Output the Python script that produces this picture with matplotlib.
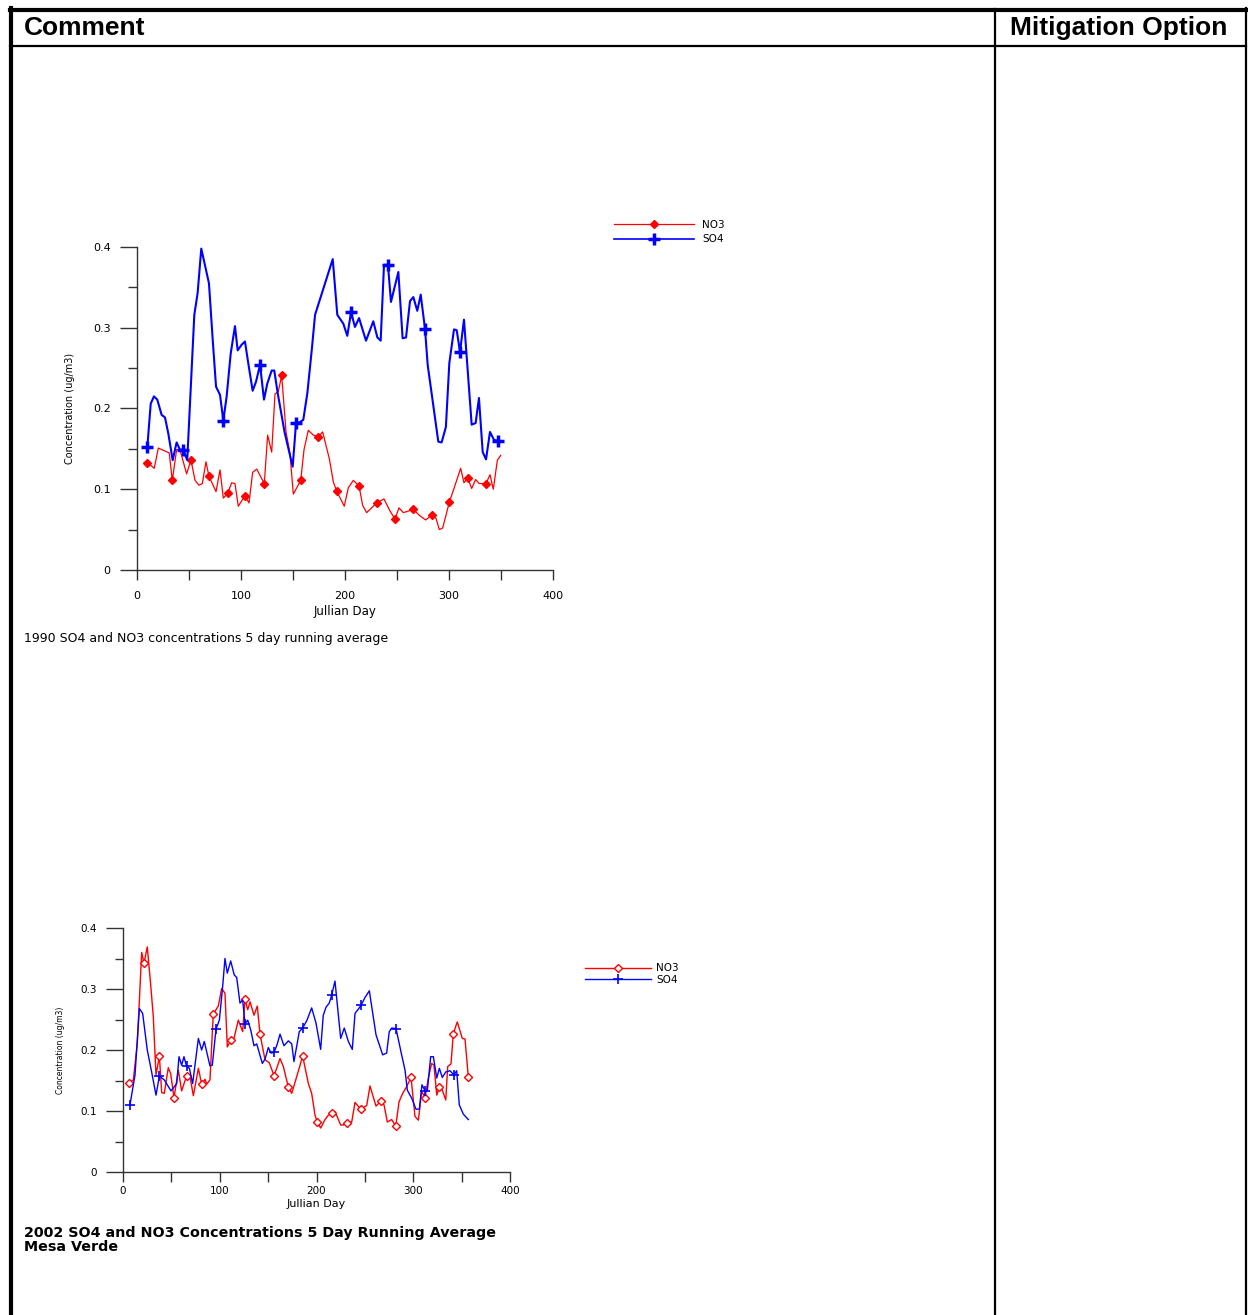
import numpy as np
import matplotlib
matplotlib.use("Agg")
import matplotlib.pyplot as plt
from matplotlib.lines import Line2D

plt.rcParams['font.family'] = ['DejaVu Sans']

# 1990 data (Julian day, ug/m3)
so4_1990_day = [9.9, 13.2, 16.3, 19.5, 23.7, 26.9, 30.1, 34.3, 38.1, 41.3, 44.5, 48.3,
                55.1, 58.3, 61.8, 69.2, 72.8, 76.0, 79.8, 83.0, 86.2, 90.1, 94.2, 96.8,
                100.6, 103.8, 107.0, 111.2, 114.4, 118.3, 122.1, 125.3, 129.5, 132.0,
                135.3, 142.0, 149.7, 152.9, 156.5, 159.9, 163.8, 168.0, 171.2, 188.2,
                192.6, 198.4, 202.2, 205.8, 209.6, 213.5, 220.2, 227.2, 231.1, 234.3,
                237.5, 241.3, 244.2, 251.3, 255.4, 258.7, 262.5, 265.7, 269.5, 272.8,
                276.9, 279.5, 289.7, 292.9, 297.0, 300.3, 304.8, 307.4, 310.6, 314.4,
                321.8, 325.6, 328.8, 332.4, 335.6, 339.4, 343.3, 347.4]
so4_1990 = [0.152, 0.206, 0.215, 0.211, 0.192, 0.189, 0.169, 0.136, 0.158, 0.149, 0.149, 0.136,
            0.316, 0.343, 0.398, 0.355, 0.285, 0.227, 0.217, 0.185, 0.215, 0.268, 0.302, 0.272,
            0.279, 0.283, 0.256, 0.222, 0.233, 0.254, 0.211, 0.231, 0.247, 0.247,
            0.219, 0.170, 0.128, 0.182, 0.183, 0.186, 0.219, 0.272, 0.316, 0.385,
            0.316, 0.305, 0.290, 0.319, 0.301, 0.312, 0.284, 0.308, 0.288, 0.284,
            0.378, 0.378, 0.332, 0.369, 0.287, 0.288, 0.333, 0.338, 0.321, 0.341,
            0.299, 0.254, 0.159, 0.158, 0.177, 0.256, 0.298, 0.297, 0.270, 0.310,
            0.180, 0.182, 0.213, 0.146, 0.137, 0.171, 0.161, 0.160]
so4_1990_marks = [9.9, 44.5, 83.0, 118.3, 152.9, 205.8, 241.3, 276.9, 310.6, 347.4]

no3_1990_day = [9.9, 16.6, 20.5, 31.0, 33.9, 38.1, 41.3, 47.7, 51.9, 55.8, 59.6, 62.8, 66.3,
                69.2, 76.0, 79.8, 83.0, 87.2, 91.0, 94.2, 97.4, 103.8, 107.7, 111.2, 115.1,
                122.4, 125.6, 129.5, 132.7, 135.9, 139.1, 143.3, 147.1, 150.3, 157.4, 160.6,
                164.7, 169.6, 174.4, 178.5, 184.9, 188.8, 191.9, 199.3, 203.2, 208.0, 213.5,
                217.0, 220.8, 230.4, 237.5, 243.3, 248.1, 251.9, 256.1, 265.7, 272.1, 277.6,
                283.3, 287.5, 290.7, 293.9, 300.3, 304.8, 311.2, 314.4, 317.9, 321.8, 325.6,
                329.1, 335.6, 339.4, 342.6, 346.5, 349.7]
no3_1990 = [0.133, 0.126, 0.151, 0.145, 0.111, 0.149, 0.149, 0.119, 0.136, 0.111, 0.105, 0.107, 0.134,
            0.116, 0.097, 0.124, 0.089, 0.095, 0.108, 0.107, 0.079, 0.092, 0.083, 0.121, 0.125,
            0.107, 0.167, 0.146, 0.218, 0.221, 0.241, 0.171, 0.144, 0.094, 0.111, 0.149,
            0.173, 0.167, 0.165, 0.171, 0.138, 0.109, 0.098, 0.079, 0.102, 0.111, 0.104,
            0.080, 0.071, 0.083, 0.088, 0.073, 0.063, 0.077, 0.071, 0.075, 0.067, 0.062,
            0.068, 0.064, 0.050, 0.052, 0.084, 0.101, 0.126, 0.108, 0.114, 0.101, 0.112,
            0.107, 0.107, 0.118, 0.100, 0.136, 0.142]
no3_1990_marks = [9.9, 33.9, 51.9, 69.2, 87.2, 103.8, 122.4, 139.1, 157.4, 174.4, 191.9,
                  213.5, 230.4, 248.1, 265.7, 283.3, 300.3, 317.9, 335.6]

# 2002 data
so4_2002_day = [7.2, 12.4, 16.9, 20.3, 25.1, 29.6, 34.1, 37.6, 42.7, 49.6, 55.5, 57.9, 60.6, 63.0,
                65.8, 68.6, 72.0, 77.9, 81.3, 84.0, 89.9, 92.3, 96.1, 99.6, 103.0, 105.4, 107.8,
                111.3, 115.0, 117.5, 120.9, 123.7, 126.1, 128.9, 132.0, 135.4, 138.2, 144.0,
                146.8, 150.2, 153.0, 156.1, 159.5, 162.3, 166.4, 170.9, 174.4, 176.7, 182.2,
                185.7, 189.9, 195.0, 199.5, 204.3, 207.0, 209.8, 213.2, 215.7, 219.1, 225.0,
                228.7, 232.9, 237.0, 239.8, 243.2, 246.0, 250.1, 254.6, 261.5, 268.4, 272.5,
                275.2, 277.7, 282.2, 288.0, 291.5, 293.9, 298.4, 302.8, 306.3, 309.0, 312.2,
                314.6, 318.0, 320.8, 324.3, 327.0, 330.0, 333.6, 338.0, 342.1, 344.9, 347.6,
                351.7, 356.9]
so4_2002 = [0.110, 0.159, 0.268, 0.260, 0.200, 0.164, 0.126, 0.157, 0.151, 0.133, 0.145, 0.189, 0.175, 0.189,
            0.173, 0.170, 0.145, 0.219, 0.200, 0.214, 0.174, 0.175, 0.234, 0.249, 0.304, 0.350, 0.326,
            0.346, 0.323, 0.319, 0.277, 0.282, 0.243, 0.249, 0.233, 0.207, 0.210, 0.178,
            0.185, 0.204, 0.195, 0.196, 0.210, 0.226, 0.207, 0.215, 0.210, 0.181, 0.230,
            0.236, 0.248, 0.269, 0.244, 0.201, 0.257, 0.270, 0.277, 0.290, 0.313, 0.219,
            0.236, 0.214, 0.201, 0.260, 0.267, 0.273, 0.286, 0.297, 0.225, 0.192, 0.195,
            0.230, 0.236, 0.235, 0.192, 0.167, 0.134, 0.121, 0.103, 0.103, 0.143, 0.133,
            0.134, 0.189, 0.189, 0.154, 0.170, 0.155, 0.164, 0.166, 0.159, 0.166, 0.110,
            0.095, 0.086]
so4_2002_marks = [7.2, 37.6, 65.8, 96.1, 126.1, 156.1, 185.7, 215.7, 246.0, 282.2, 312.2, 342.1]

no3_2002_day = [6.5, 10.7, 14.8, 19.3, 21.7, 25.1, 28.6, 31.3, 34.1, 37.6, 40.0, 42.7, 46.8, 49.3,
                52.7, 57.2, 60.6, 65.8, 69.3, 72.7, 77.9, 81.3, 84.8, 86.5, 89.9, 93.3, 98.5,
                102.0, 105.4, 107.8, 111.3, 114.7, 119.2, 123.7, 126.1, 128.9, 131.3, 135.4,
                138.8, 141.6, 146.8, 151.2, 156.1, 159.5, 162.3, 165.7, 170.9, 174.4, 179.5,
                185.7, 191.6, 195.0, 198.5, 200.9, 204.3, 208.8, 212.2, 216.4, 219.1, 225.0,
                227.7, 231.2, 236.4, 239.8, 245.7, 251.9, 255.3, 261.5, 266.4, 269.8, 273.2,
                277.7, 281.9, 285.3, 289.1, 293.2, 297.7, 301.8, 305.3, 308.7, 312.2, 315.6,
                319.0, 321.4, 324.3, 327.0, 329.4, 333.6, 335.6, 339.0, 341.4, 345.5, 350.7,
                353.5, 356.9]
no3_2002 = [0.146, 0.151, 0.211, 0.360, 0.342, 0.369, 0.307, 0.255, 0.159, 0.190, 0.130, 0.129, 0.171, 0.161,
            0.122, 0.167, 0.133, 0.158, 0.156, 0.125, 0.170, 0.144, 0.152, 0.144, 0.151, 0.259, 0.272,
            0.301, 0.293, 0.205, 0.216, 0.219, 0.249, 0.230, 0.283, 0.266, 0.279, 0.257,
            0.272, 0.226, 0.184, 0.179, 0.158, 0.173, 0.186, 0.173, 0.139, 0.129, 0.156,
            0.190, 0.145, 0.129, 0.093, 0.082, 0.072, 0.086, 0.093, 0.097, 0.099, 0.077,
            0.077, 0.081, 0.082, 0.114, 0.103, 0.109, 0.141, 0.108, 0.116, 0.110, 0.082,
            0.086, 0.075, 0.115, 0.129, 0.140, 0.155, 0.091, 0.085, 0.132, 0.122, 0.154,
            0.178, 0.175, 0.126, 0.140, 0.137, 0.118, 0.173, 0.177, 0.227, 0.246, 0.219,
            0.218, 0.156]
no3_2002_marks = [6.5, 21.7, 37.6, 52.7, 65.8, 81.3, 93.3, 111.3, 126.1, 141.6, 156.1, 170.9,
                  185.7, 200.9, 216.4, 231.2, 245.7, 266.4, 281.9, 297.7, 312.2, 327.0, 341.4, 356.9]

x_ticks = [0, 100, 200, 300, 400]
y_ticks = [0, 0.1, 0.2, 0.3, 0.4]
y_labels = ['0', '0.1', '0.2', '0.3', '0.4']

W, H = 1248, 1315


def marks(days, mdays):
    return [i for i, d in enumerate(days) if d in mdays]


def rect(left, top, right, bottom):
    return [left / W, 1 - bottom / H, (right - left) / W, (bottom - top) / H]


def style_axes(ax, fs, ymaj, ymin, xlen, ypad, xpad):
    for s in ['top', 'right']:
        ax.spines[s].set_visible(False)
    for s in ['left', 'bottom']:
        ax.spines[s].set_color('#333333')
        ax.spines[s].set_linewidth(1.0)
    ax.set_xlim(0, 400)
    ax.set_ylim(0, 0.4)
    ax.set_xticks(x_ticks)
    ax.set_xticks(np.arange(50, 400, 100), minor=True)
    ax.set_yticks(y_ticks)
    ax.set_yticklabels(y_labels)
    ax.set_yticks(np.arange(0.05, 0.4, 0.1), minor=True)
    ax.tick_params(axis='y', which='major', length=ymaj, width=1, color='#333333',
                   labelsize=fs, pad=ypad)
    ax.tick_params(axis='y', which='minor', length=ymin, width=1, color='#333333')
    ax.tick_params(axis='x', which='both', length=xlen, width=1, color='#333333',
                   labelsize=fs, pad=xpad)
    ax.patch.set_alpha(0)


fig = plt.figure(figsize=(W / 100, H / 100), dpi=100)

# table frame
frame = fig.add_axes([0, 0, 1, 1])
frame.set_xlim(0, W)
frame.set_ylim(H, 0)
frame.axis('off')
frame.plot([10, 1246], [9.5, 9.5], color='black', lw=3)
frame.plot([10.5, 10.5], [8, H], color='black', lw=3)
frame.plot([10, 1246], [45.5, 45.5], color='black', lw=1.6)
frame.plot([995, 995], [9, H], color='black', lw=1.6)
frame.plot([1245.5, 1245.5], [8, H], color='black', lw=1.6)
frame.text(24, 28, 'Comment', fontsize=19, fontweight='bold', va='center', ha='left',
           family='Liberation Sans')
frame.text(1010, 28, 'Mitigation Option', fontsize=19, fontweight='bold', va='center',
           ha='left', family='Liberation Sans')
frame.text(24, 638, '1990 SO4 and NO3 concentrations 5 day running average',
           fontsize=9, va='center', ha='left')
frame.text(24, 1240, '2002 SO4 and NO3 Concentrations 5 Day Running Average\nMesa Verde',
           fontsize=10.3, fontweight='bold', va='center', ha='left', linespacing=0.92)

# 1990 chart
ax1 = fig.add_axes(rect(137, 247, 553, 570))
ax1.plot(no3_1990_day, no3_1990, color='#ff0000', lw=0.9, marker='D', ms=4.5,
         mfc='#ff0000', mec='#ff0000', markevery=marks(no3_1990_day, no3_1990_marks))
ax1.plot(so4_1990_day, so4_1990, color='#0000ff', lw=1.5, marker='+', ms=8, mew=2.5,
         markevery=marks(so4_1990_day, so4_1990_marks))
style_axes(ax1, 8, 12, 6.5, 7, 7, 8)
ax1.set_xlabel('Jullian Day', fontsize=8.5, labelpad=3)
ax1.set_ylabel('Concentration (ug/m3)', fontsize=7, labelpad=13)
h1 = [Line2D([], [], color='#ff0000', lw=0.9, marker='D', ms=4.5, mfc='#ff0000'),
      Line2D([], [], color='#0000ff', lw=1.2, marker='+', ms=8, mew=2.5)]
fig.legend(h1, ['NO3', 'SO4'], loc='center left', bbox_to_anchor=(614 / W, 1 - 232 / H),
           frameon=False, fontsize=7.5, handlelength=7.7, handletextpad=0.75,
           labelspacing=0.45, borderpad=0, borderaxespad=0)

# 2002 chart
ax2 = fig.add_axes(rect(123, 928, 510, 1172))
ax2.plot(no3_2002_day, no3_2002, color='#ff0000', lw=1.0, marker='D', ms=4.5,
         mfc='white', mec='#ff0000', mew=1.0, markevery=marks(no3_2002_day, no3_2002_marks))
ax2.plot(so4_2002_day, so4_2002, color='#0000ff', lw=1.0, marker='+', ms=7, mew=1.2,
         markevery=marks(so4_2002_day, so4_2002_marks))
style_axes(ax2, 7.5, 12, 6, 7, 7, 3)
ax2.set_xlabel('Jullian Day', fontsize=8, labelpad=2)
ax2.set_ylabel('Concentration (ug/m3)', fontsize=5.5, labelpad=11)
h2 = [Line2D([], [], color='#ff0000', lw=1.0, marker='D', ms=4.5, mfc='white'),
      Line2D([], [], color='#0000ff', lw=1.0, marker='+', ms=7, mew=1.2)]
fig.legend(h2, ['NO3', 'SO4'], loc='center left', bbox_to_anchor=(585 / W, 1 - 974 / H),
           frameon=False, fontsize=7.5, handlelength=6.3, handletextpad=0.55,
           labelspacing=0.15, borderpad=0, borderaxespad=0)

fig.savefig('out.png', dpi=100)
